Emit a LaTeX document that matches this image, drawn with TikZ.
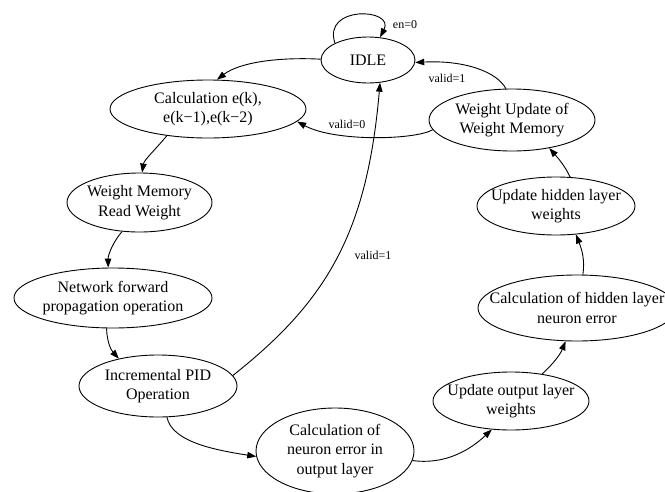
\documentclass[tikz,border=0pt]{standalone}
\usepackage{fontspec}
\setmainfont{Liberation Serif}
\usetikzlibrary{shapes.geometric,arrows.meta}

\tikzset{
  state/.style={draw, ellipse, line width=0.9pt, inner sep=-40pt, align=center,
    font=\fontsize{16}{19.5}\selectfont},
  edge/.style={line width=0.9pt, -{Triangle[length=9pt,width=6.5pt]}},
  cond/.style={font=\fontsize{12}{14}\selectfont, inner sep=0pt},
}

\begin{document}
\begin{tikzpicture}[x=1pt, y=-1pt]
\useasboundingbox (0,0) rectangle (665,491);

% states of the controller FSM
\node[state, minimum width=94pt,  minimum height=46pt] (idle) at (368,60)    {IDLE};
\node[state, minimum width=196pt, minimum height=58pt] (calce) at (208,109)  {Calculation e(k),\\e(k−1),e(k−2)};
\node[state, minimum width=166pt, minimum height=62pt] (wupd) at (512,120)   {Weight Update of\\Weight Memory};
\node[state, minimum width=145pt, minimum height=59pt] (wmem) at (139.5,202.5) {Weight Memory\\Read Weight};
\node[state, minimum width=158pt, minimum height=58pt] (uhid) at (556,206)   {Update hidden layer\\weights};
\node[state, minimum width=198pt, minimum height=60pt] (netf) at (113,298)   {Network forward\\propagation operation};
\node[state, minimum width=198pt, minimum height=66pt] (chid) at (577,308)   {Calculation of hidden layer\\neuron error};
\node[state, minimum width=158pt, minimum height=62pt] (ipid) at (158,386)   {Incremental PID\\Operation};
\node[state, minimum width=156pt, minimum height=58pt] (uout) at (511,401)   {Update output layer\\weights};
\node[state, minimum width=158pt, minimum height=86pt] (cneu) at (335,451)   {Calculation of\\neuron error in\\output layer};

% transitions
\draw[edge] (idle.153) .. controls (322,5) and (395,8) .. (idle.62);
\draw[edge] (idle.179) .. controls (280,57) and (240,62) .. (calce.73);
\draw[edge] (wupd.101) .. controls (497,72) and (465,60) .. (idle.-3);
\draw[edge] (wupd.187) .. controls (415,140) and (335,142) .. (calce.-8);
\draw[edge] (ipid.8) .. controls (327,301) and (367,233) .. (idle.-62);
\draw[edge] (calce.213) .. controls (155,150) and (144,160) .. (wmem.85);
\draw[edge] (wmem.239) .. controls (113,242) and (108,255) .. (netf.99);
\draw[edge] (netf.258) .. controls (107,342) and (111,350) .. (ipid.145);
\draw[edge] (ipid.-74) .. controls (172,442) and (215,450) .. (cneu.184);
\draw[edge] (cneu.-7) .. controls (445,465) and (470,450) .. (uout.236);
\draw[edge] (uout.41) .. controls (553,364) and (560,355) .. (chid.251);
\draw[edge] (chid.80) .. controls (585,260) and (582,250) .. (uhid.-55);
\draw[edge] (uhid.64) .. controls (565,166) and (558,158) .. (wupd.-37);

% transition conditions
\node[cond] (c1) at (405,25)  {en=0};
\node[cond] (c2) at (447,78)  {valid=1};
\node[cond] (c3) at (347,124) {valid=0};
\node[cond] (c4) at (373,255) {valid=1};
\end{tikzpicture}
\end{document}
